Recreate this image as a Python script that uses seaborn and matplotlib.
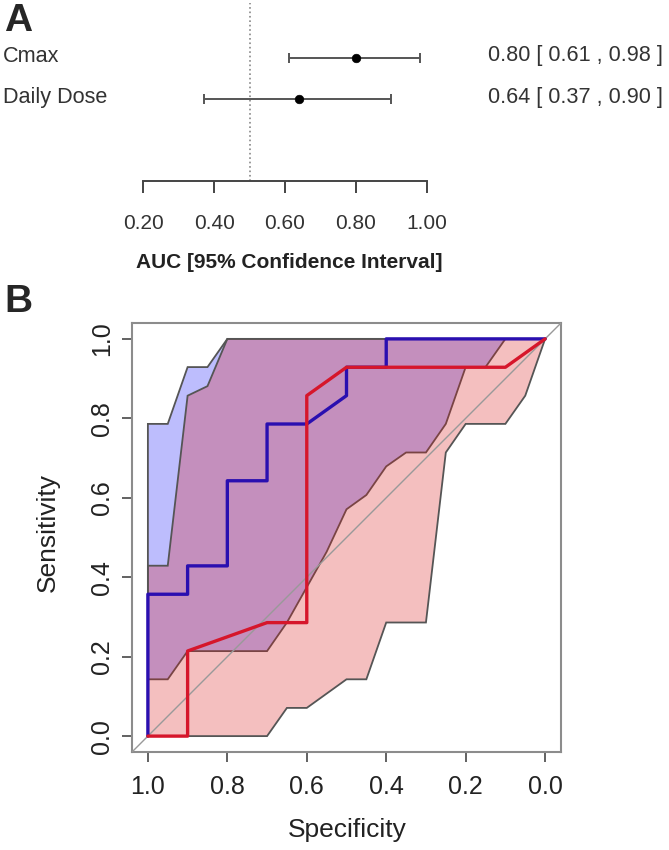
import matplotlib
matplotlib.use("Agg")
import matplotlib.pyplot as plt
import numpy as np
import pandas as pd
import seaborn as sns

# ---- panel A: AUC forest plot ----
predictors = ["Cmax", "Daily Dose"]
auc = [0.80, 0.64]
auc_lo = [0.61, 0.37]
auc_hi = [0.98, 0.90]
auc_ticks = [0.20, 0.40, 0.60, 0.80, 1.00]

# ---- panel B: ROC curves (14 positives, 10 negatives) ----
cmax_spec = [1.0, 1.0, 0.9, 0.9, 0.8, 0.8, 0.7, 0.7, 0.6, 0.5, 0.5, 0.4, 0.4, 0.0]
cmax_sens = [0.0, 5/14, 5/14, 6/14, 6/14, 9/14, 9/14, 11/14, 11/14, 12/14, 13/14, 13/14, 1.0, 1.0]
dose_spec = [1.0, 0.9, 0.9, 0.7, 0.6, 0.6, 0.5, 0.1, 0.0]
dose_sens = [0.0, 0.0, 3/14, 4/14, 4/14, 12/14, 13/14, 13/14, 1.0]

# sensitivity confidence bands
cmax_up_spec = [1.0, 0.95, 0.9, 0.85, 0.8, 0.0]
cmax_up_sens = [0.786, 0.786, 0.929, 0.929, 1.0, 1.0]
cmax_lo_spec = [1.0, 0.95, 0.9, 0.7, 0.65, 0.55, 0.5, 0.45, 0.4, 0.35, 0.3, 0.25, 0.2, 0.15, 0.1, 0.0]
cmax_lo_sens = [0.143, 0.143, 0.214, 0.214, 0.286, 0.464, 0.571, 0.607, 0.679, 0.714, 0.714, 0.786, 0.929, 0.929, 1.0, 1.0]
dose_up_spec = [1.0, 0.95, 0.9, 0.85, 0.8, 0.0]
dose_up_sens = [0.429, 0.429, 0.857, 0.881, 1.0, 1.0]
dose_lo_spec = [1.0, 0.7, 0.65, 0.6, 0.55, 0.5, 0.45, 0.4, 0.3, 0.25, 0.2, 0.1, 0.05, 0.0]
dose_lo_sens = [0.0, 0.0, 0.071, 0.071, 0.107, 0.143, 0.143, 0.286, 0.286, 0.714, 0.786, 0.786, 0.857, 1.0]

sns.set_style("white")
plt.rcParams["font.family"] = ["Liberation Sans", "DejaVu Sans"]

W, H = 669, 850
fig = plt.figure(figsize=(W / 100, H / 100), dpi=100)


def fx(px):
    return px / W


def fy(py):
    return 1 - py / H


# ---------- panel A ----------
axA = fig.add_axes([fx(143.3), fy(181), fx(426.7) - fx(143.3), fy(3) - fy(181)])
rows = [2, 1]
axA.set_xlim(0.2, 1.0)
axA.set_ylim(-1, 3.34)
axA.axvline(0.5, color="#888888", ls=":", lw=1.2)
axA.hlines(rows, auc_lo, auc_hi, color="#555555", lw=1.4)
cap_x = auc_lo + auc_hi
cap_y = rows + rows
axA.vlines(cap_x, [r - 0.12 for r in cap_y], [r + 0.12 for r in cap_y],
           color="#555555", lw=1.4)
df_auc = pd.DataFrame({"auc": auc, "row": rows})
sns.scatterplot(data=df_auc, x="auc", y="row", color="black", s=38,
                edgecolor="black", ax=axA, zorder=3)
sns.despine(ax=axA, left=True, top=True, right=True)
axA.spines["bottom"].set_color("#444444")
axA.spines["bottom"].set_linewidth(1.4)
axA.set_yticks([])
axA.set_xticks(auc_ticks)
axA.set_xticklabels([f"{t:.2f}" for t in auc_ticks])
axA.tick_params(axis="x", direction="out", length=8.6, width=1.4, color="#444444",
                pad=15, labelsize=15, labelcolor="#333333", bottom=True)
axA.set_xlabel("")
axA.set_ylabel("")

for name, a, l, h, py in zip(predictors, auc, auc_lo, auc_hi, [56, 97]):
    fig.text(fx(3), fy(py), name, ha="left", va="center", fontsize=15.6, color="#333333")
    fig.text(fx(663), fy(py), f"{a:.2f} [ {l:.2f} , {h:.2f} ]",
             ha="right", va="center", fontsize=15.6, color="#333333")

fig.text(fx(289), fy(263), "AUC [95% Confidence Interval]", ha="center", va="center",
         fontsize=15, fontweight="bold", color="#222222")
fig.text(fx(4), fy(21), "A", ha="left", va="center", fontsize=28, fontweight="bold")

# ---------- panel B ----------
axB = fig.add_axes([fx(132), fy(752), fx(561) - fx(132), fy(323) - fy(752)])

blue_poly_x = cmax_up_spec + cmax_lo_spec[::-1]
blue_poly_y = cmax_up_sens + cmax_lo_sens[::-1]
red_poly_x = dose_up_spec + dose_lo_spec[::-1]
red_poly_y = dose_up_sens + dose_lo_sens[::-1]
axB.fill(blue_poly_x, blue_poly_y, facecolor=(0.0, 0.0, 0.98, 0.26),
         edgecolor="#555555", lw=1.3, zorder=1)
axB.fill(red_poly_x, red_poly_y, facecolor=(0.85, 0.1, 0.1, 0.28),
         edgecolor="#555555", lw=1.3, zorder=2)

axB.plot([1.04, -0.04], [-0.04, 1.04], color="#999999", lw=1.0, zorder=3)

df_cmax = pd.DataFrame({"spec": cmax_spec, "sens": cmax_sens})
df_dose = pd.DataFrame({"spec": dose_spec, "sens": dose_sens})
sns.lineplot(data=df_cmax, x="spec", y="sens", sort=False, estimator=None,
             color="#2a0fb0", lw=2.4, ax=axB, zorder=4)
sns.lineplot(data=df_dose, x="spec", y="sens", sort=False, estimator=None,
             color="#d6162b", lw=2.4, ax=axB, zorder=5)

axB.set_xlim(1.04, -0.04)
axB.set_ylim(-0.04, 1.04)
ticks_b = [1.0, 0.8, 0.6, 0.4, 0.2, 0.0]
axB.set_xticks(ticks_b)
axB.set_yticks(ticks_b)
axB.set_xticklabels([f"{t:.1f}" for t in ticks_b])
axB.set_yticklabels([f"{t:.1f}" for t in ticks_b])
for s in axB.spines.values():
    s.set_color("#8c8c8c")
    s.set_linewidth(1.5)
axB.tick_params(axis="both", direction="out", length=7.2, width=1.3, color="#555555",
                labelsize=18, labelcolor="#222222", bottom=True, left=True)
axB.tick_params(axis="x", pad=9)
axB.tick_params(axis="y", pad=6)
for lab in axB.get_yticklabels():
    lab.set_rotation(90)
    lab.set_va("center")
axB.set_xlabel("")
axB.set_ylabel("")

fig.text(fx(347), fy(830), "Specificity", ha="center", va="center", fontsize=19, color="#222222")
fig.text(fx(48), fy(533), "Sensitivity", ha="center", va="center", fontsize=19,
         rotation=90, color="#222222")
fig.text(fx(4), fy(302), "B", ha="left", va="center", fontsize=28, fontweight="bold")

fig.savefig("out.png", dpi=100)
